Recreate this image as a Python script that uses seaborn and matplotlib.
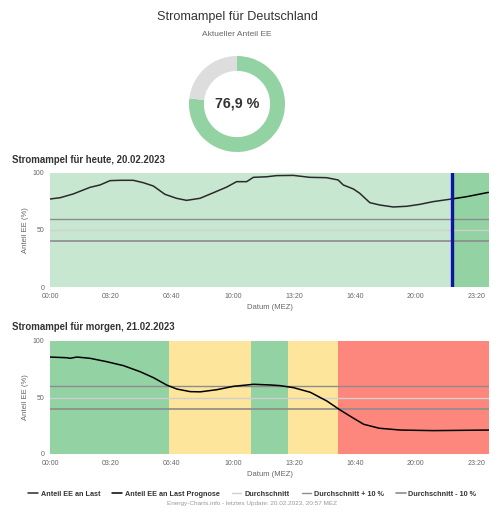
import matplotlib
matplotlib.use("Agg")
import matplotlib.pyplot as plt
import seaborn as sns
import pandas as pd

# aktueller Anteil EE (Donut)
anteil_aktuell = 76.9

# heute, 20.02.2023 (Minuten seit 00:00, Anteil EE in %)
heute_min = [0, 33, 76, 131, 164, 197, 230, 273, 306, 339, 377, 415, 448, 492, 536,
             580, 612, 645, 667, 711, 743, 798, 852, 907, 945, 962, 995, 1016, 1049,
             1082, 1126, 1170, 1213, 1257, 1320, 1366, 1438]
heute_ee = [77.2, 78.3, 81.6, 87.4, 89.5, 93.3, 93.6, 93.6, 91.5, 88.6, 81.3, 77.8, 76.0,
            77.8, 82.7, 87.7, 92.4, 92.4, 96.2, 96.7, 97.7, 97.9, 96.2, 95.9, 93.9, 89.5,
            86.0, 82.2, 74.0, 71.9, 70.2, 70.8, 72.5, 74.9, 77.3, 79.2, 83.0]
jetzt_min = 1320

# morgen, 21.02.2023 (Prognose)
morgen_min = [0, 55, 66, 88, 131, 186, 241, 296, 339, 383, 416, 460, 493, 547, 602,
              668, 722, 755, 799, 854, 908, 952, 996, 1029, 1080, 1149, 1258, 1440]
morgen_ee = [85.8, 85.2, 84.7, 85.8, 84.7, 81.7, 78.2, 72.8, 67.6, 61.0, 57.5, 55.2, 55.0,
             56.9, 59.9, 61.7, 61.1, 60.5, 58.7, 54.6, 46.9, 38.9, 31.6, 26.3, 22.8, 21.2,
             20.7, 21.2]

# Ampelphasen morgen
phase_start = [0, 390, 660, 780, 945]
phase_ende = [390, 660, 780, 945, 1440]
phase_farbe = ["gruen", "gelb", "gruen", "gelb", "rot"]

durchschnitt = 50
x_ticks = [0, 200, 400, 600, 800, 1000, 1200, 1400]
x_labels = ["00:00", "03:20", "06:40", "10:00", "13:20", "16:40", "20:00", "23:20"]

farben = {"gruen": "#93d2a3", "gelb": "#fde59b", "rot": "#fe877d"}
gruen_hell = "#c8e7d0"

sns.set_theme(style="white")
plt.rcParams["font.family"] = ["Liberation Sans", "DejaVu Sans"]

fig = plt.figure(figsize=(5, 5.17), dpi=100)

fig.text(0.474, 1 - 17 / 517, "Stromampel für Deutschland", ha="center", va="center",
         fontsize=9.1, color="#333333")
fig.text(0.474, 1 - 35 / 517, "Aktueller Anteil EE", ha="center", va="center",
         fontsize=6, color="#666666")

# Donut
ax0 = fig.add_axes([189 / 500, 1 - 152 / 517, 96 / 500, 96 / 517])
ax0.pie([anteil_aktuell, 100 - anteil_aktuell], colors=["#93d2a3", "#dddddd"],
        startangle=90, counterclock=False, radius=1,
        wedgeprops=dict(width=0.31, edgecolor="none"))
ax0.set_xlim(-1, 1)
ax0.set_ylim(-1, 1)
ax0.text(0, 0, "76,9 %", ha="center", va="center", fontsize=10.3,
         fontweight="bold", color="#333333")


def achse_stylen(ax):
    ax.set_xlim(0, 1440)
    ax.set_ylim(0, 100)
    ax.set_xticks(x_ticks)
    ax.set_xticklabels(x_labels)
    ax.set_yticks([0, 50, 100])
    ax.tick_params(length=0, labelsize=5, labelcolor="#666666", pad=4)
    ax.set_xlabel("Datum (MEZ)", fontsize=5.5, color="#666666", labelpad=3)
    ax.set_ylabel("Anteil EE (%)", fontsize=5.5, color="#666666", labelpad=3)
    for s in ax.spines.values():
        s.set_visible(False)


def linien(ax):
    ax.axhline(durchschnitt, color="#d0d0d0", lw=1.0, label="Durchschnitt", zorder=2)
    ax.axhline(durchschnitt + 10, color="#8c8c8c", lw=1.0, label="Durchschnitt + 10 %", zorder=2)
    ax.axhline(durchschnitt - 10, color="#8c8c8c", lw=1.2, label="Durchschnitt - 10 %", zorder=2)


# heute
ax1 = fig.add_axes([50 / 500, 1 - 287 / 517, 439 / 500, 114 / 517])
ax1.axvspan(0, jetzt_min, color=gruen_hell, lw=0, zorder=0)
ax1.axvspan(jetzt_min, 1440, color=farben["gruen"], lw=0, zorder=0)
df_heute = pd.DataFrame({"min": heute_min, "ee": heute_ee})
ist = df_heute[df_heute["min"] <= jetzt_min]
prog = df_heute[df_heute["min"] >= jetzt_min]
sns.lineplot(data=ist, x="min", y="ee", ax=ax1, color="#2a2a2a", lw=1.1,
             label="Anteil EE an Last", legend=False, zorder=3)
sns.lineplot(data=prog, x="min", y="ee", ax=ax1, color="#000000", lw=1.1,
             label="Anteil EE an Last Prognose", legend=False, zorder=3)
linien(ax1)
ax1.axvline(jetzt_min, color="#0a1a6e", lw=2.4, zorder=4)
ax1.axvline(jetzt_min, color="#1010e0", lw=1.2, zorder=5)
achse_stylen(ax1)
fig.text(12 / 500, 1 - 160 / 517, "Stromampel für heute, 20.02.2023", ha="left",
         va="center", fontsize=6.9, fontweight="bold", color="#333333")

# morgen
ax2 = fig.add_axes([50 / 500, 1 - 454 / 517, 439 / 500, 113 / 517])
for a, b, f in zip(phase_start, phase_ende, phase_farbe):
    ax2.axvspan(a, b, color=farben[f], lw=0, zorder=0)
sns.lineplot(x=morgen_min, y=morgen_ee, ax=ax2, color="#000000", lw=1.1,
             legend=False, zorder=3)
linien(ax2)
achse_stylen(ax2)
fig.text(12 / 500, 1 - 327 / 517, "Stromampel für morgen, 21.02.2023", ha="left",
         va="center", fontsize=6.9, fontweight="bold", color="#333333")

handles, labels = ax1.get_legend_handles_labels()
fig.legend(handles, labels, loc="center", bbox_to_anchor=(0.505, 1 - 494 / 517), ncol=5,
           frameon=False, handlelength=1.3, handletextpad=0.4, columnspacing=1.7,
           prop={"size": 5.2, "weight": "bold"}, labelcolor="#333333")

fig.text(0.504, 1 - 504 / 517,
         "Energy-Charts.info - letztes Update: 20.02.2023, 20:57 MEZ",
         ha="center", va="center", fontsize=4.6, color="#999999")

fig.savefig("out.png", dpi=100)
